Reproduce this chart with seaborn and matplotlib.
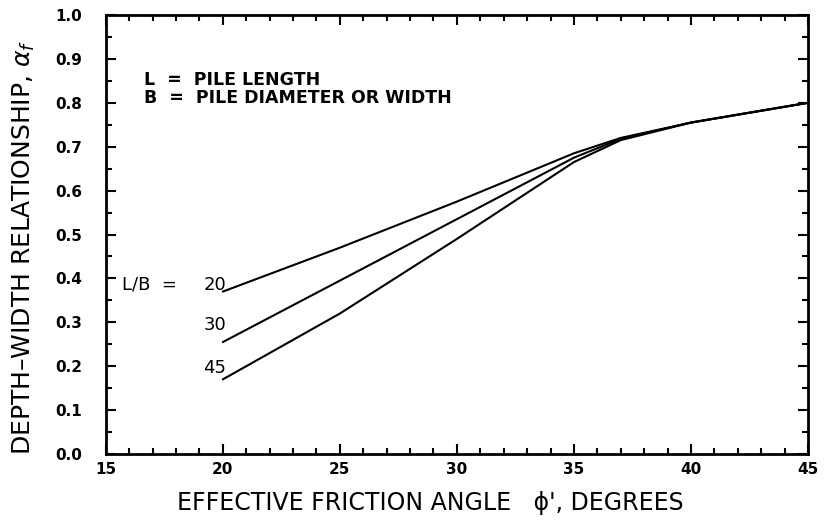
import matplotlib
matplotlib.use("Agg")
import matplotlib.pyplot as plt
import seaborn as sns
import pandas as pd
import numpy as np
from matplotlib.ticker import MultipleLocator

# Data
phi = [20, 25, 30, 35, 37, 40, 45]
lb20 = [0.37, 0.47, 0.575, 0.685, 0.72, 0.755, 0.80]
lb30 = [0.255, 0.395, 0.535, 0.675, 0.718, 0.755, 0.80]
lb45 = [0.17, 0.32, 0.49, 0.665, 0.715, 0.755, 0.80]
series_names = ["20", "30", "45"]
x_ticks = [15, 20, 25, 30, 35, 40, 45]
y_ticks = [0.0, 0.1, 0.2, 0.3, 0.4, 0.5, 0.6, 0.7, 0.8, 0.9, 1.0]

df = pd.DataFrame({
    "phi": phi * 3,
    "alpha": lb20 + lb30 + lb45,
    "LB": [series_names[0]] * len(phi) + [series_names[1]] * len(phi) + [series_names[2]] * len(phi),
})

sns.set_style("ticks")
plt.rcParams["font.family"] = ["DejaVu Sans"]
plt.rcParams["text.color"] = "black"
plt.rcParams["axes.labelcolor"] = "black"
plt.rcParams["xtick.color"] = "black"
plt.rcParams["ytick.color"] = "black"

fig = plt.figure(figsize=(8.33, 5.27), dpi=100)
ax = fig.add_axes([0.127, 0.1385, 0.843, 0.833])

sns.lineplot(data=df, x="phi", y="alpha", hue="LB",
             palette=["black", "black", "black"], linewidth=1.5,
             legend=False, ax=ax, sort=True)

ax.set_xlim(15, 45)
ax.set_ylim(0, 1.0)
ax.set_xticks(x_ticks)
ax.set_yticks(y_ticks)
ax.set_xticklabels([str(v) for v in x_ticks], fontsize=11, fontweight="bold")
ax.set_yticklabels([f"{v:.1f}" for v in y_ticks], fontsize=11, fontweight="bold")
ax.xaxis.set_minor_locator(MultipleLocator(1))
ax.yaxis.set_minor_locator(MultipleLocator(0.05))
ax.tick_params(which="both", direction="in", top=True, right=True,
               color="black", width=1.5)
ax.tick_params(which="major", length=7)
ax.tick_params(axis="x", which="major", pad=6)
ax.tick_params(axis="y", which="major", pad=17)
ax.tick_params(which="minor", length=4)
for s in ax.spines.values():
    s.set_linewidth(2.0)
    s.set_color("black")

ax.set_xlabel("EFFECTIVE FRICTION ANGLE   \u03d5', DEGREES", fontsize=17)
ax.set_ylabel("DEPTH\u2013WIDTH RELATIONSHIP, $\\alpha_f$", fontsize=18)
ax.xaxis.set_label_coords(0.462, -0.085)
ax.yaxis.set_label_coords(-0.098, 0.47)

ax.text(16.65, 0.852, "L  =  PILE LENGTH", fontsize=12.5, fontweight="bold", va="center")
ax.text(16.65, 0.811, "B  =  PILE DIAMETER OR WIDTH", fontsize=12.5, fontweight="bold", va="center")
ax.text(15.7, 0.385, "L/B  =", fontsize=13, va="center")
ax.text(19.66, 0.385, series_names[0], fontsize=13, va="center", ha="center")
ax.text(19.66, 0.294, series_names[1], fontsize=13, va="center", ha="center")
ax.text(19.66, 0.196, series_names[2], fontsize=13, va="center", ha="center")

fig.savefig("out.png", dpi=100)
